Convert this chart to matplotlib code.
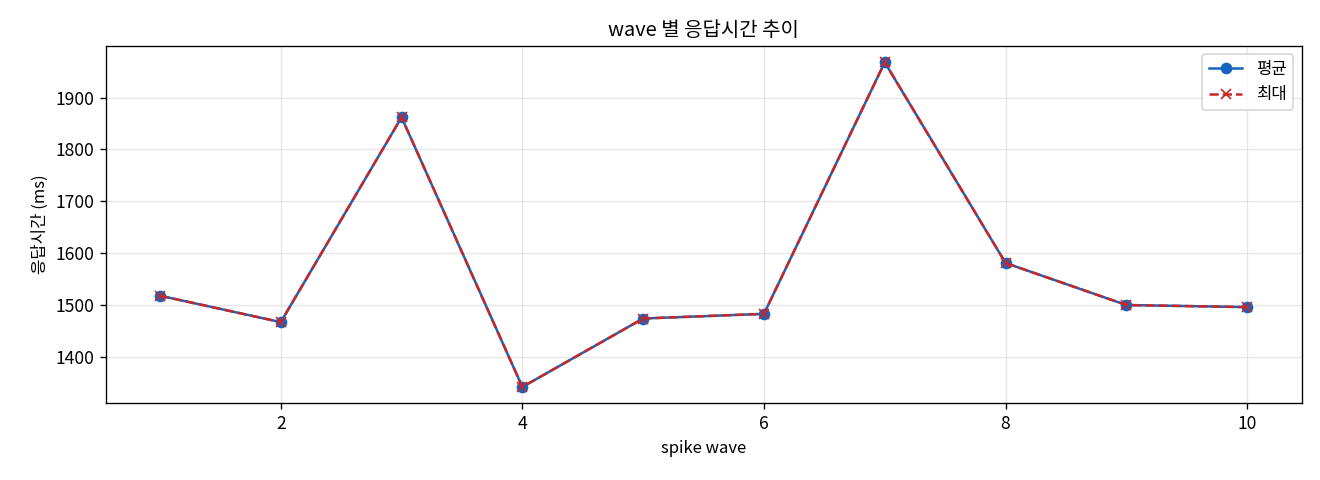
import matplotlib
matplotlib.use("Agg")
import matplotlib.pyplot as plt

plt.rcParams['font.family'] = ['Noto Sans CJK KR', 'DejaVu Sans']
plt.rcParams['axes.unicode_minus'] = False

# wave 번호와 응답시간 (ms)
waves = [1, 2, 3, 4, 5, 6, 7, 8, 9, 10]
avg_ms = [1518, 1467, 1862, 1342, 1474, 1483, 1968, 1581, 1500, 1496]
max_ms = [1518, 1467, 1862, 1342, 1474, 1483, 1968, 1581, 1500, 1496]

fig, ax = plt.subplots(figsize=(11, 4), dpi=120)

ax.plot(waves, avg_ms, marker="o", linestyle="-", color="#1565C0", label="평균")
ax.plot(waves, max_ms, marker="x", linestyle="--", color="#C62828", label="최대")

ax.set_title("wave 별 응답시간 추이", fontsize=12)
ax.set_xlabel("spike wave", fontsize=10)
ax.set_ylabel("응답시간 (ms)", fontsize=10)
ax.tick_params(labelsize=10.5)
ax.grid(True, alpha=0.3)
ax.legend(loc="upper right", fontsize=10)

fig.subplots_adjust(left=0.080, right=0.986, top=0.904, bottom=0.160)
fig.savefig("out.png")
